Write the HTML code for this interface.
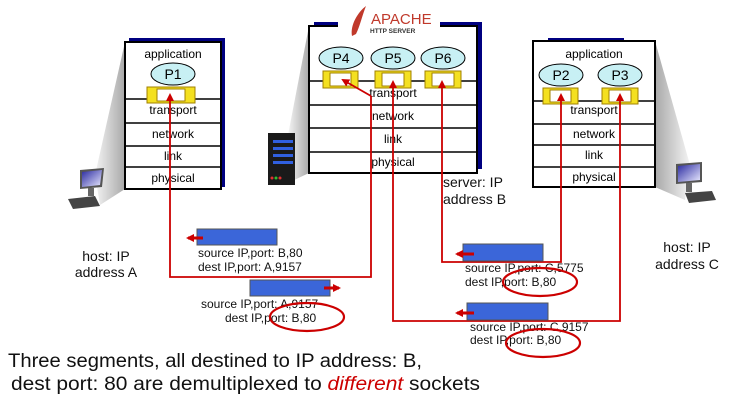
<!DOCTYPE html>
<html><head><style>
html,body{margin:0;padding:0;background:#fff;}
svg{display:block;}
text{font-family:"Liberation Sans",sans-serif;}
</style></head><body>
<svg width="732" height="402" viewBox="0 0 732 402" xmlns="http://www.w3.org/2000/svg">
<defs>
<linearGradient id="sh" x1="0" x2="1" y1="0" y2="0"><stop offset="0" stop-color="#f4f4f4"/><stop offset="1" stop-color="#a8a8a8"/></linearGradient>
<linearGradient id="shr" x1="1" x2="0" y1="0" y2="0"><stop offset="0" stop-color="#f4f4f4"/><stop offset="1" stop-color="#a8a8a8"/></linearGradient>
<linearGradient id="scr" x1="0" x2="1" y1="0" y2="1"><stop offset="0" stop-color="#2a2aa0"/><stop offset="1" stop-color="#e8e8ff"/></linearGradient>
<marker id="ah" markerWidth="8" markerHeight="8" refX="6" refY="4" orient="auto-start-reverse" markerUnits="userSpaceOnUse"><path d="M0,0 L8,4 L0,8 z" fill="#cc0000"/></marker>
</defs>

<polygon points="125,42 125,189 100,205 95,175" fill="url(#sh)"/>
<polygon points="309,26 309,173 290,182 288,135" fill="url(#sh)"/>
<polygon points="655,41 655,187 685,200 690,165" fill="url(#shr)"/>

<polygon points="80,170 104,168 102,187 80,189" fill="#555"/>
<polygon points="82,172 102,170 100,185 82,187" fill="url(#scr)"/>
<polygon points="68,199 95,196 100,206 73,209" fill="#444"/>
<rect x="88" y="188" width="6" height="8" fill="#666"/>
<polygon points="676,164 702,162 702,182 676,184" fill="#555"/>
<polygon points="678,166 700,164 700,180 678,182" fill="url(#scr)"/>
<polygon points="685,193 712,191 716,200 689,203" fill="#444"/>
<rect x="686" y="183" width="6" height="9" fill="#666"/>
<rect x="268" y="133" width="27" height="52" fill="#1a1a1a"/>
<rect x="273" y="140" width="20" height="3" fill="#3060e0"/>
<rect x="273" y="147" width="20" height="3" fill="#3060e0"/>
<rect x="273" y="154" width="20" height="3" fill="#3060e0"/>
<rect x="273" y="161" width="20" height="3" fill="#3060e0"/>
<circle cx="272" cy="178" r="1.5" fill="#e03030"/><circle cx="276" cy="178" r="1.5" fill="#30c030"/><circle cx="280" cy="178" r="1.5" fill="#e03030"/>

<rect x="129" y="38" width="96" height="149" fill="#000080"/>
<rect x="125" y="42" width="96" height="147" fill="#fff" stroke="#000" stroke-width="2"/>
<g stroke="#000" stroke-width="1.5"><line x1="125" y1="99" x2="221" y2="99"/><line x1="125" y1="123" x2="221" y2="123"/><line x1="125" y1="146" x2="221" y2="146"/><line x1="125" y1="167" x2="221" y2="167"/></g>
<text x="173" y="58" font-size="12" text-anchor="middle">application</text>
<ellipse cx="173" cy="74" rx="22" ry="11" fill="#c8f0f4" stroke="#000"/>
<text x="173" y="79" font-size="14" text-anchor="middle">P1</text>
<text x="173" y="114" font-size="12" text-anchor="middle">transport</text>
<text x="173" y="138" font-size="12" text-anchor="middle">network</text>
<text x="173" y="160" font-size="12" text-anchor="middle">link</text>
<text x="173" y="182" font-size="12" text-anchor="middle">physical</text>

<rect x="314" y="22" width="168" height="147" fill="#000080"/>
<rect x="309" y="26" width="168" height="147" fill="#fff" stroke="#000" stroke-width="2"/>
<rect x="338" y="15" width="102" height="14" fill="#fff"/>
<g stroke="#000" stroke-width="1.5"><line x1="309" y1="81" x2="477" y2="81"/><line x1="309" y1="105" x2="477" y2="105"/><line x1="309" y1="128" x2="477" y2="128"/><line x1="309" y1="152" x2="477" y2="152"/></g>
<path d="M352,36 C350,25 358,12 366,6 C362,16 360,26 356,34 Z" fill="#c0392b"/>
<text x="371" y="24" font-size="15" fill="#c0392b">APACHE</text>
<text x="370" y="33" font-size="6.5" font-weight="bold" fill="#333">HTTP SERVER</text>
<ellipse cx="341" cy="58" rx="22" ry="11" fill="#c8f0f4" stroke="#000"/>
<text x="341" y="63" font-size="14" text-anchor="middle">P4</text>
<ellipse cx="393" cy="58" rx="22" ry="11" fill="#c8f0f4" stroke="#000"/>
<text x="393" y="63" font-size="14" text-anchor="middle">P5</text>
<ellipse cx="443" cy="58" rx="22" ry="11" fill="#c8f0f4" stroke="#000"/>
<text x="443" y="63" font-size="14" text-anchor="middle">P6</text>
<text x="393" y="97" font-size="12" text-anchor="middle">transport</text>
<text x="393" y="120" font-size="12" text-anchor="middle">network</text>
<text x="393" y="143" font-size="12" text-anchor="middle">link</text>
<text x="393" y="166" font-size="12" text-anchor="middle">physical</text>

<rect x="548" y="38" width="76" height="4" fill="#000080"/>
<rect x="533" y="41" width="122" height="146" fill="#fff" stroke="#000" stroke-width="2"/>
<g stroke="#000" stroke-width="1.5"><line x1="533" y1="101" x2="655" y2="101"/><line x1="533" y1="124" x2="655" y2="124"/><line x1="533" y1="145" x2="655" y2="145"/><line x1="533" y1="167" x2="655" y2="167"/></g>
<text x="594" y="58" font-size="12" text-anchor="middle">application</text>
<ellipse cx="561" cy="75" rx="22" ry="11" fill="#c8f0f4" stroke="#000"/>
<text x="561" y="80" font-size="14" text-anchor="middle">P2</text>
<ellipse cx="620" cy="75" rx="22" ry="11" fill="#c8f0f4" stroke="#000"/>
<text x="620" y="80" font-size="14" text-anchor="middle">P3</text>
<text x="594" y="114" font-size="12" text-anchor="middle">transport</text>
<text x="594" y="138" font-size="12" text-anchor="middle">network</text>
<text x="594" y="159" font-size="12" text-anchor="middle">link</text>
<text x="594" y="181" font-size="12" text-anchor="middle">physical</text>

<g>
<rect x="147" y="87" width="48" height="16" fill="#f4e020" stroke="#a08000"/><rect x="157" y="89" width="28" height="12" fill="#fff" stroke="#a08000"/>
<rect x="323" y="71" width="35" height="17" fill="#f4e020" stroke="#a08000"/><rect x="330" y="73" width="21" height="13" fill="#fff" stroke="#a08000"/>
<rect x="375" y="71" width="36" height="17" fill="#f4e020" stroke="#a08000"/><rect x="382" y="73" width="22" height="13" fill="#fff" stroke="#a08000"/>
<rect x="425" y="71" width="36" height="17" fill="#f4e020" stroke="#a08000"/><rect x="432" y="73" width="22" height="13" fill="#fff" stroke="#a08000"/>
<rect x="543" y="88" width="35" height="16" fill="#f4e020" stroke="#a08000"/><rect x="550" y="90" width="21" height="12" fill="#fff" stroke="#a08000"/>
<rect x="602" y="88" width="36" height="16" fill="#f4e020" stroke="#a08000"/><rect x="609" y="90" width="22" height="12" fill="#fff" stroke="#a08000"/>
</g>

<g fill="none" stroke="#cc0000" stroke-width="1.8">
<polyline points="371,96 371,277 170,277 170,95" marker-end="url(#ah)"/>
<line x1="371" y1="96" x2="343" y2="80" marker-end="url(#ah)"/>
<polyline points="393,82 393,321 620,321 620,95" marker-start="url(#ah)" marker-end="url(#ah)"/>
<polyline points="442,82 442,262 561,262 561,95" marker-start="url(#ah)" marker-end="url(#ah)"/>
</g>

<g fill="#3b66d9" stroke="#555">
<rect x="197" y="229" width="80" height="16"/>
<rect x="250" y="280" width="80" height="16"/>
<rect x="463" y="244" width="80" height="17"/>
<rect x="467" y="303" width="81" height="17"/>
</g>
<g stroke="#cc0000" stroke-width="3" fill="none">
<line x1="203" y1="238" x2="188" y2="238" marker-end="url(#ah)"/>
<line x1="324" y1="288" x2="339" y2="288" marker-end="url(#ah)"/>
<line x1="474" y1="254" x2="457" y2="254" marker-end="url(#ah)"/>
<line x1="474" y1="313" x2="457" y2="313" marker-end="url(#ah)"/>
</g>
<g font-size="12" fill="#111">
<text x="198" y="257">source IP,port: B,80</text>
<text x="198" y="271">dest IP,port: A,9157</text>
<text x="201" y="308">source IP,port: A,9157</text>
<text x="225" y="322">dest IP,port: B,80</text>
<text x="465" y="272">source IP,port: C,5775</text>
<text x="465" y="286">dest IP,port: B,80</text>
<text x="470" y="331">source IP,port: C,9157</text>
<text x="470" y="344">dest IP,port: B,80</text>
</g>
<g fill="none" stroke="#cc0000" stroke-width="2.2">
<ellipse cx="307" cy="317" rx="37" ry="14"/>
<ellipse cx="540" cy="282" rx="37" ry="14"/>
<ellipse cx="543" cy="343" rx="37" ry="14"/>
</g>

<g font-size="14" fill="#111">
<text x="443" y="187">server: IP</text>
<text x="443" y="204">address B</text>
<text x="106" y="261" text-anchor="middle">host: IP</text>
<text x="106" y="277" text-anchor="middle">address A</text>
<text x="687" y="252" text-anchor="middle">host: IP</text>
<text x="687" y="269" text-anchor="middle">address C</text>
</g>
<text x="8" y="367" font-size="19" fill="#111" textLength="414" lengthAdjust="spacingAndGlyphs">Three segments, all destined to IP address: B,</text>
<text x="11" y="390" font-size="19" fill="#111" textLength="469" lengthAdjust="spacingAndGlyphs">dest port: 80 are demultiplexed to <tspan fill="#cc0000" font-style="italic">different</tspan> sockets</text>
</svg>
</body></html>
